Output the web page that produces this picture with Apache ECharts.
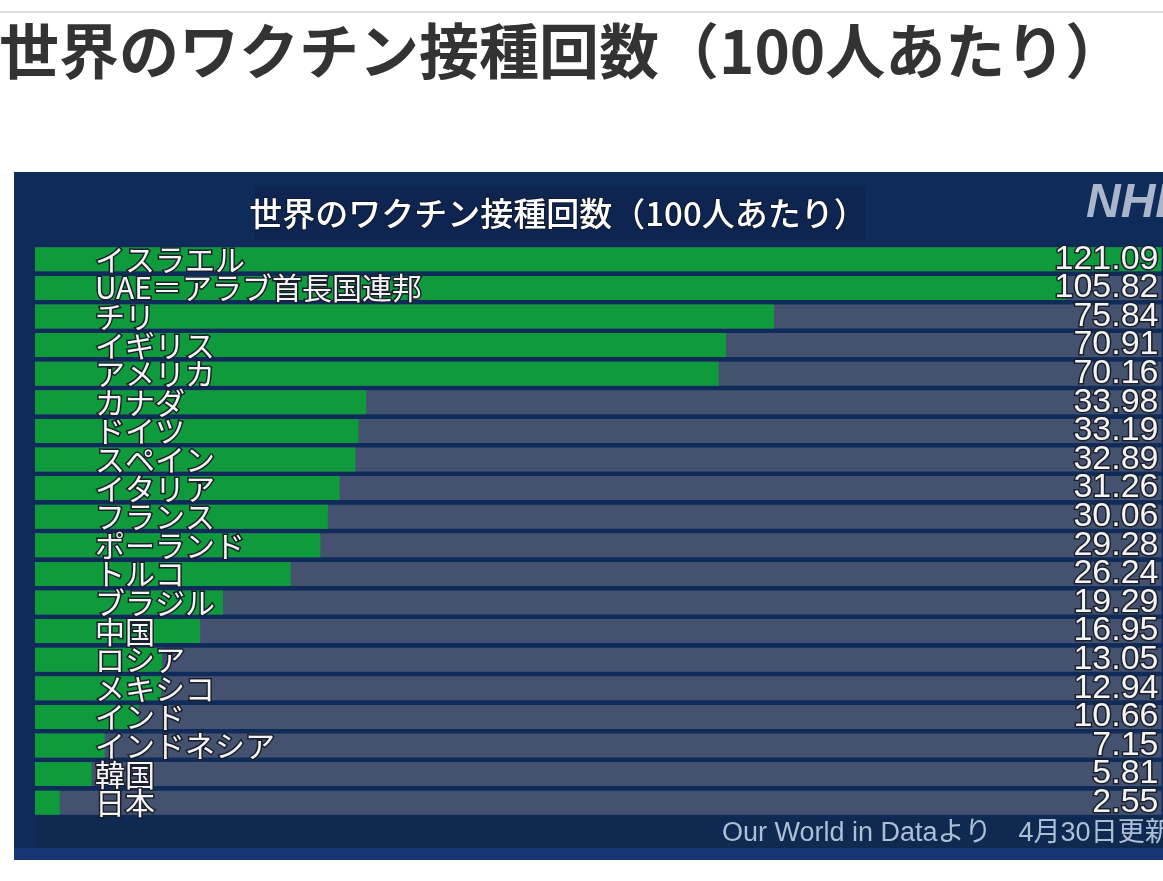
<!DOCTYPE html>
<html>
<head>
<meta charset="utf-8">
<script src="https://cdn.jsdelivr.net/npm/echarts@6/dist/echarts.min.js"></script>
<style>
  html, body { margin: 0; padding: 0; background: #fff; overflow: hidden; }
  #chart { width: 1163px; height: 881px; }
</style>
</head>
<body>
<div id="chart"></div>
<script>
// 国名と100人あたり接種回数
var countries = ['イスラエル', 'UAE＝アラブ首長国連邦', 'チリ', 'イギリス', 'アメリカ', 'カナダ', 'ドイツ', 'スペイン',
    'イタリア', 'フランス', 'ポーランド', 'トルコ', 'ブラジル', '中国', 'ロシア', 'メキシコ', 'インド',
    'インドネシア', '韓国', '日本'];
var doses = [121.09, 105.82, 75.84, 70.91, 70.16, 33.98, 33.19, 32.89, 31.26, 30.06, 29.28, 26.24,
    19.29, 16.95, 13.05, 12.94, 10.66, 7.15, 5.81, 2.55];
var doseLabels = doses.map(function (v) { return v.toFixed(2); });

var jp = '"Noto Sans CJK JP", "Noto Sans", sans-serif';
var latin = '"Liberation Sans", Arial, "Noto Sans CJK JP", sans-serif';

var chart = echarts.init(document.getElementById('chart'));
chart.setOption({
    backgroundColor: '#ffffff',
    animation: false,
    title: {
        text: '世界のワクチン接種回数（100人あたり）',
        left: -6,
        top: 16,
        textStyle: { fontSize: 60, fontWeight: 'bold', color: '#333333', fontFamily: jp }
    },
    graphic: [
        // 上の細い線
        { type: 'rect', shape: { x: 0, y: 11, width: 1163, height: 2 }, style: { fill: '#dcdcdc' }, z: 0 },
        // パネル
        { type: 'rect', shape: { x: 14, y: 172, width: 1160, height: 688 }, style: { fill: '#0f2b5a' }, z: 0 },
        { type: 'rect', shape: { x: 255, y: 186, width: 610, height: 54 }, style: { fill: '#0d2550' }, z: 0 },
        { type: 'rect', shape: { x: 35, y: 817, width: 1140, height: 31 }, style: { fill: '#102950' }, z: 0 },
        { type: 'rect', shape: { x: 14, y: 848, width: 1160, height: 12 }, style: { fill: '#163676' }, z: 0 },
        {
            type: 'text', x: 558, y: 213, z: 5,
            style: {
                text: '世界のワクチン接種回数（100人あたり）', fill: '#ffffff', font: '500 33px ' + jp,
                textAlign: 'center', textVerticalAlign: 'middle', stroke: '#111a2a', lineWidth: 2
            }
        },
        {
            type: 'text', x: 1086, y: 204, z: 5,
            style: {
                text: 'NHK', fill: '#a9b6cc', font: 'italic bold 48px "Liberation Sans", Arial, sans-serif',
                textVerticalAlign: 'middle'
            }
        },
        {
            type: 'text', x: 722, y: 834, z: 5,
            style: {
                text: 'Our World in Dataより　4月30日更新', fill: '#adbfd6', font: '27px ' + latin,
                textVerticalAlign: 'middle'
            }
        }
    ],
    grid: {
        left: 35, right: 0, top: 245, height: 572,
        show: true, backgroundColor: '#1b2944', borderWidth: 0
    },
    xAxis: { type: 'value', min: 0, max: 115.6, show: false },
    yAxis: [
        {
            type: 'category', data: countries, inverse: true, position: 'left', z: 10,
            axisLine: { show: false }, axisTick: { show: false },
            axisLabel: {
                interval: 0, inside: true, margin: 60, color: '#f4f4f4', fontSize: 30, fontFamily: jp,
                textBorderColor: '#1a1f2b', textBorderWidth: 3
            }
        },
        {
            type: 'category', data: doseLabels, inverse: true, position: 'right', z: 10,
            axisLine: { show: false }, axisTick: { show: false },
            axisLabel: {
                interval: 0, inside: true, margin: 3, color: '#f4f4f4', fontSize: 34,
                fontFamily: '"Liberation Sans", Arial, sans-serif',
                textBorderColor: '#1a1f2b', textBorderWidth: 3
            }
        }
    ],
    series: [{
        type: 'bar',
        data: doses,
        barCategoryGap: '16%',
        itemStyle: { color: '#0f9a3c' },
        showBackground: true,
        backgroundStyle: { color: '#45526f' }
    }]
});
</script>
</body>
</html>
